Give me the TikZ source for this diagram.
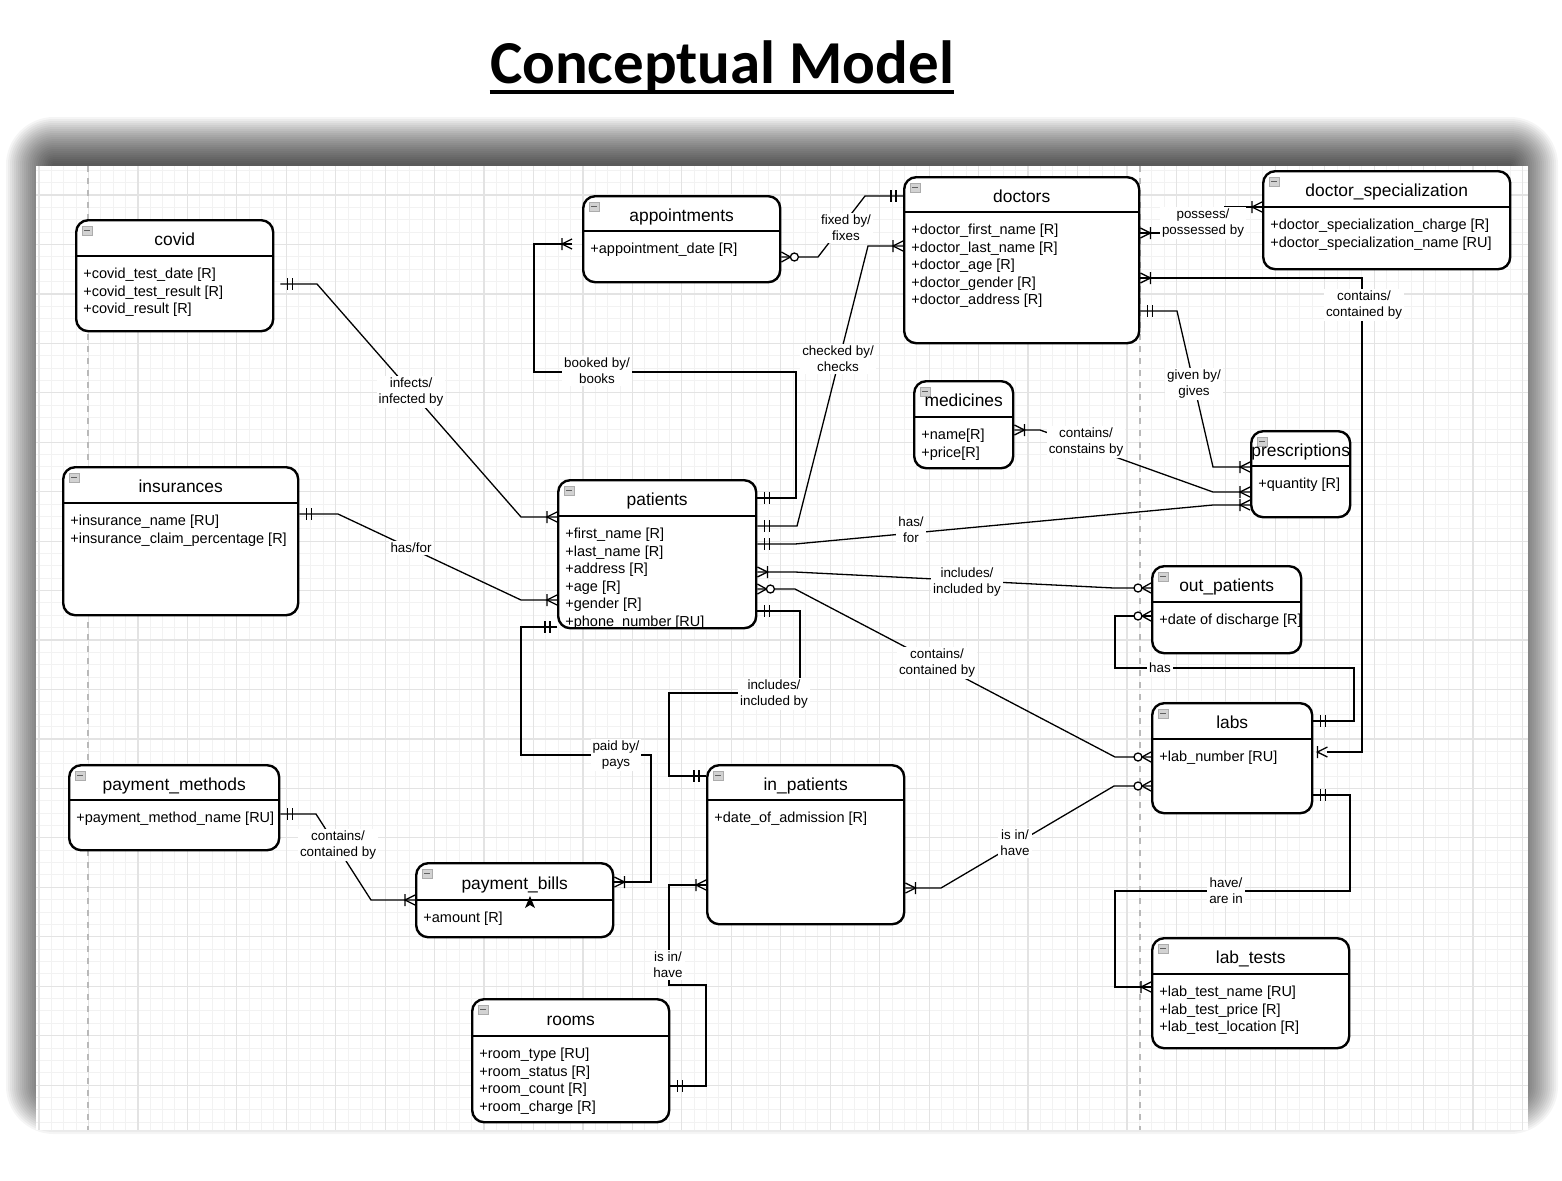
\documentclass[tikz,border=0pt]{standalone}
\usepackage{fontspec}
\setmainfont{Liberation Sans}
\newfontfamily\titlefont{Carlito}
\usetikzlibrary{calc}

\tikzset{
  erline/.style={line width=0.65pt, black},
  gridminor/.style={line width=0.5pt, gray!10},
  gridmajor/.style={line width=0.6pt, gray!22},
  erbox/.style={draw, line width=1.2pt, fill=white, rounded corners=6pt, anchor=north west, inner sep=0pt},
  ertitle/.style={anchor=base, font=\fontsize{8.7}{10}\selectfont, inner sep=0pt},
  erattr/.style={anchor=north west, align=left, font=\fontsize{7.25}{8.75}\selectfont, inner sep=0pt},
  rel/.style={fill=white, align=center, font=\fontsize{6.7}{8}\selectfont, inner sep=1pt},
  one/.pic={\draw[erline] (7,-6) -- (7,6) (12,-6) -- (12,6);},
  many/.pic={\draw[erline] (0,-5) -- (10,0) -- (0,5) (10,-6) -- (10,6);},
  zmany/.pic={\draw[erline] (0,-5) -- (9,0) -- (0,5); \draw[erline,fill=white] (13,0) circle (4);},
}

% entity box: name, left, top, width, height, header height, title, attributes
\newcommand{\entity}[8]{%
  \node[erbox, minimum width=#4*0.5pt, minimum height=#5*0.5pt] (#1) at (#2,#3) {};
  \draw[line width=1.2pt] ($(#1.north west)+(0,#6)$) -- ($(#1.north east)+(0,#6)$);
  \filldraw[fill=gray!35, draw=gray!65, line width=0.4pt] ($(#1.north west)+(7,7)$) rectangle ++(10,9);
  \draw[gray!75!black, line width=0.6pt] ($(#1.north west)+(9,11.5)$) -- ++(6,0);
  \node[ertitle] (#1-title) at ($(#1.north)+(0,#6/2+8)$) {#7};
  \node[erattr] (#1-attrs) at ($(#1.north west)+(8,#6+12)$) {#8};
}

\begin{document}
\begin{tikzpicture}[x=0.5pt, y=-0.5pt]
\useasboundingbox (0,0) rectangle (1562,1180);
\fill[white] (0,0) rectangle (1562,1180);

% shadow of the drawing area
\foreach \k in {0,...,23}
  \fill[black, opacity=0.04, rounded corners=\k*1pt+1pt] (52-\k*2,163-\k*2) rectangle (1512+\k*2,1088+\k*2);
\fill[white] (36,166) rectangle (1528,1130);

% grid
\begin{scope}
\clip (36,166) rectangle (1528,1130);
\foreach \k in {-1,...,121} \draw[gridminor] ({39+12.3625*\k},166) -- ({39+12.3625*\k},1130);
\foreach \k in {-3,...,76} \draw[gridminor] (36,{195+12.3625*\k}) -- (1528,{195+12.3625*\k});
\foreach \k in {0,...,30} \draw[gridmajor] ({39+49.45*\k},166) -- ({39+49.45*\k},1130);
\foreach \k in {-1,...,19} \draw[gridmajor] (36,{195+49.45*\k}) -- (1528,{195+49.45*\k});
\end{scope}
\draw[gray!55, dashed, line width=0.6pt] (88,166) -- (88,1130);
\draw[gray!55, dashed, line width=0.6pt] (1140,166) -- (1140,1130);

% title
\node[anchor=base, font=\titlefont\bfseries\fontsize{30.5}{36}\selectfont, inner sep=0pt] (title) at (722,83) {Conceptual Model};
\draw[line width=2pt] ($(title.base west)+(0,9)$) -- ($(title.base east)+(0,9)$);

% entities
\entity{covid}{75}{219}{197}{111}{37}{covid}{+covid\_test\_date [R]\\+covid\_test\_result [R]\\+covid\_result [R]}
\entity{appointments}{582}{195}{197}{86}{36}{appointments}{+appointment\_date [R]}
\entity{doctors}{903}{176}{235}{166}{36}{doctors}{+doctor\_first\_name [R]\\+doctor\_last\_name [R]\\+doctor\_age [R]\\+doctor\_gender [R]\\+doctor\_address [R]}
\entity{docspec}{1262}{170}{247}{98}{37}{doctor\_specialization}{+doctor\_specialization\_charge [R]\\+doctor\_specialization\_name [RU]}
\entity{medicines}{913}{380}{99}{87}{37}{medicines}{+name[R]\\+price[R]}
\entity{prescriptions}{1250}{430}{99}{86}{36}{prescriptions}{+quantity [R]}
\entity{insurances}{62}{466}{235}{148}{37}{insurances}{+insurance\_name [RU]\\+insurance\_claim\_percentage [R]}
\entity{patients}{557}{479}{198}{148}{37}{patients}{+first\_name [R]\\+last\_name [R]\\+address [R]\\+age [R]\\+gender [R]\\+phone\_number [RU]}
\entity{outpatients}{1151}{565}{149}{87}{37}{out\_patients}{+date of discharge [R]}
\entity{labs}{1151}{702}{160}{110}{37}{labs}{+lab\_number [RU]}
\entity{paymethods}{68}{764}{210}{85}{36}{payment\_methods}{+payment\_method\_name [RU]}
\entity{paybills}{415}{862}{197}{74}{38}{payment\_bills}{+amount [R]}
\entity{inpatients}{706}{764}{197}{159}{36}{in\_patients}{+date\_of\_admission [R]}
\entity{rooms}{471}{998}{197}{123}{38}{rooms}{+room\_type [RU]\\+room\_status [R]\\+room\_count [R]\\+room\_charge [R]}
\entity{labtests}{1151}{937}{197}{110}{37}{lab\_tests}{+lab\_test\_name [RU]\\+lab\_test\_price [R]\\+lab\_test\_location [R]}
\fill (530,896) -- (535,908) -- (530,905) -- (525,908) -- cycle;

% relationships
\coordinate (covidgap) at ($(covid.east |- 0,284)+(6,0)$);
\coordinate (apptgap) at ($(appointments.west |- 0,244)+(-10,0)$);
\coordinate (labsgap) at ($(labs.east |- 0,752)+(14,0)$);
\draw[erline] (covidgap) -- (317,284) -- (521,517) -- (patients.west |- 0,517);
\draw[erline] (apptgap) -- (534,244) -- (534,372) -- (796,372) -- (796,498) -- (patients.east |- 0,498);
\draw[erline] (appointments.east |- 0,257) -- (818,257) -- (865,196) -- (doctors.west |- 0,196);
\draw[erline] (doctors.west |- 0,246) -- (868,246) -- (797,526) -- (patients.east |- 0,526);
\draw[erline] (doctors.east |- 0,233) -- (1225,233) -- (1225,207) -- (docspec.west |- 0,207);
\draw[erline] (doctors.east |- 0,278) -- (1362,278) -- (1362,752) -- (labsgap);
\draw[erline] (doctors.east |- 0,311) -- (1177,311) -- (1213,467) -- (prescriptions.west |- 0,467);
\draw[erline] (medicines.east |- 0,430) -- (1040,430) -- (1213,492) -- (prescriptions.west |- 0,492);
\draw[erline] (patients.east |- 0,544) -- (795,544) -- (1213,505) -- (prescriptions.west |- 0,505);
\draw[erline] (patients.east |- 0,572) -- (795,572) -- (1114,588) -- (outpatients.west |- 0,588);
\draw[erline] (patients.east |- 0,589) -- (795,589) -- (1115,757) -- (labs.west |- 0,757);
\draw[erline] (patients.east |- 0,611) -- (800,611) -- (800,693) -- (669,693) -- (669,776) -- (inpatients.west |- 0,776);
\draw[erline] (patients.west |- 0,627) -- (521,627) -- (521,755) -- (651,755) -- (651,882) -- (paybills.east |- 0,882);
\draw[erline] (paymethods.east |- 0,814) -- (316,814) -- (371,900) -- (paybills.west |- 0,900);
\draw[erline] (inpatients.west |- 0,885) -- (669,885) -- (669,985) -- (706,985) -- (706,1086) -- (rooms.east |- 0,1086);
\draw[erline] (inpatients.east |- 0,888) -- (941,888) -- (1114,786) -- (labs.west |- 0,786);
\draw[erline] (outpatients.west |- 0,616) -- (1115,616) -- (1115,668) -- (1354,668) -- (1354,721) -- (labs.east |- 0,721);
\draw[erline] (labs.east |- 0,795) -- (1350,795) -- (1350,891) -- (1115,891) -- (1115,987) -- (labtests.west |- 0,987);
\draw[erline] (insurances.east |- 0,514) -- (338,514) -- (521,600) -- (patients.west |- 0,600);

% cardinality ends
\pic at (covidgap) {one};
\pic[xscale=-1] at (patients.west |- 0,517) {many};
\pic[xscale=-1] at (apptgap) {many};
\pic at (patients.east |- 0,498) {one};
\pic at (appointments.east |- 0,257) {zmany};
\pic[xscale=-1] at (doctors.west |- 0,196) {one};
\pic[xscale=-1] at (doctors.west |- 0,246) {many};
\pic at (patients.east |- 0,526) {one};
\pic at (doctors.east |- 0,233) {many};
\pic[xscale=-1] at (docspec.west |- 0,207) {many};
\pic at (doctors.east |- 0,278) {many};
\pic[xscale=-1] at (labsgap) {many};
\pic at (doctors.east |- 0,311) {one};
\pic[xscale=-1] at (prescriptions.west |- 0,467) {many};
\pic at (medicines.east |- 0,430) {many};
\pic[xscale=-1] at (prescriptions.west |- 0,492) {many};
\pic at (patients.east |- 0,544) {one};
\pic[xscale=-1] at (prescriptions.west |- 0,505) {many};
\pic at (patients.east |- 0,572) {many};
\pic[xscale=-1] at (outpatients.west |- 0,588) {zmany};
\pic at (patients.east |- 0,589) {zmany};
\pic[xscale=-1] at (labs.west |- 0,757) {zmany};
\pic at (patients.east |- 0,611) {one};
\pic[xscale=-1] at (inpatients.west |- 0,776) {one};
\pic[xscale=-1] at (patients.west |- 0,627) {one};
\pic at (paybills.east |- 0,882) {many};
\pic at (paymethods.east |- 0,814) {one};
\pic[xscale=-1] at (paybills.west |- 0,900) {many};
\pic[xscale=-1] at (inpatients.west |- 0,885) {many};
\pic at (rooms.east |- 0,1086) {one};
\pic at (inpatients.east |- 0,888) {many};
\pic[xscale=-1] at (labs.west |- 0,786) {zmany};
\pic[xscale=-1] at (outpatients.west |- 0,616) {zmany};
\pic at (labs.east |- 0,721) {one};
\pic at (labs.east |- 0,795) {one};
\pic[xscale=-1] at (labtests.west |- 0,987) {many};
\pic at (insurances.east |- 0,514) {one};
\pic[xscale=-1] at (patients.west |- 0,600) {many};

% relationship names
\node[rel] (infects) at (411,392) {infects/\\infected by};
\node[rel] (booked) at (597,371) {booked by/\\books};
\node[rel] (fixed) at (846,228) {fixed by/\\fixes};
\node[rel] (checked) at (838,359) {checked by/\\checks};
\node[rel] (possess) at (1203,223) {possess/\\possessed by};
\node[rel] (doclabs) at (1364,305) {contains/\\contained by};
\node[rel] (given) at (1194,384) {given by/\\gives};
\node[rel] (medpres) at (1086,442) {contains/\\constains by};
\node[rel] (patpres) at (911,530) {has/\\for};
\node[rel] (patout) at (967,582) {includes/\\included by};
\node[rel] (patlabs) at (937,663) {contains/\\contained by};
\node[rel] (patin) at (774,694) {includes/\\included by};
\node[rel] (paid) at (616,755) {paid by/\\pays};
\node[rel] (methbill) at (338,845) {contains/\\contained by};
\node[rel] (inroom) at (668,965) {is in/\\have};
\node[rel] (inlabs) at (1015,843) {is in/\\have};
\node[rel] (outlabs) at (1160,668) {has};
\node[rel] (labtest) at (1226,891) {have/\\are in};
\node[rel] (hasfor) at (411,548) {has/for};
\end{tikzpicture}
\end{document}
